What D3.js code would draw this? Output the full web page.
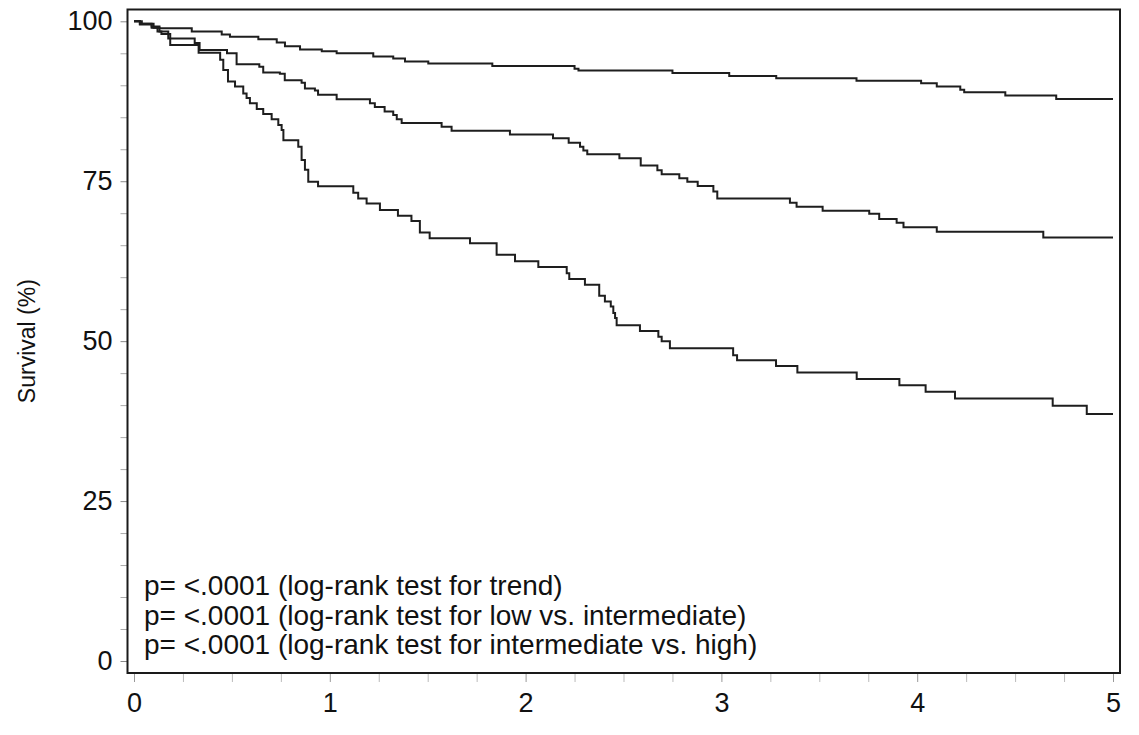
<!DOCTYPE html>
<html>
<head>
<meta charset="utf-8">
<script src="https://cdn.jsdelivr.net/npm/d3@7"></script>
<style>
  html, body { margin: 0; padding: 0; background: #fff; }
  svg { display: block; }
  text { font-family: "Liberation Sans", Arial, sans-serif; fill: #111; }
</style>
</head>
<body>
<svg id="chart" width="1139" height="735"></svg>
<script>
// ---- Data ----
const xTicks = [0, 1, 2, 3, 4, 5];
const yTicks = [0, 25, 50, 75, 100];
const yLabel = "Survival (%)";
const annotations = [
  "p= <.0001 (log-rank test for trend)",
  "p= <.0001 (log-rank test for low vs. intermediate)",
  "p= <.0001 (log-rank test for intermediate vs. high)"
];

// Kaplan-Meier step points: [time (years), survival %]
const lowRisk = [
  [0,100],[0.04,99.6],[0.09,99.2],[0.13,98.9],[0.295,98.4],[0.448,97.95],[0.49,97.6],
  [0.635,97.2],[0.729,96.7],[0.771,96.1],[0.848,95.6],[0.959,95.3],[1.035,95.0],
  [1.222,94.5],[1.324,94.2],[1.384,93.7],[1.503,93.4],[1.83,93.0],[2.25,92.6],
  [2.27,92.3],[2.75,91.9],[3.04,91.45],[3.28,91.1],[3.69,90.7],[4.02,90.3],
  [4.10,89.8],[4.22,89.3],[4.24,88.9],[4.45,88.4],[4.71,87.85],[5,87.85]
];
const intermediateRisk = [
  [0,100],[0.03,99.6],[0.10,99.0],[0.13,98.4],[0.175,97.3],[0.31,96.6],[0.335,95.5],
  [0.475,95.0],[0.524,93.3],[0.64,92.9],[0.66,92.0],[0.745,91.8],[0.77,90.8],
  [0.856,90.4],[0.873,89.5],[0.924,89.2],[0.94,88.5],[1.035,87.8],[1.205,87.2],
  [1.23,86.6],[1.28,85.9],[1.324,85.35],[1.342,84.7],[1.367,84.1],[1.571,83.5],
  [1.622,82.9],[1.92,82.3],[2.14,81.7],[2.22,81.0],[2.278,80.4],[2.295,79.8],
  [2.315,79.2],[2.479,78.6],[2.588,77.45],[2.673,76.7],[2.695,76.1],[2.785,75.45],
  [2.826,74.9],[2.879,74.25],[2.959,73.4],[2.979,72.3],[3.35,71.65],[3.384,71.0],
  [3.517,70.4],[3.755,69.9],[3.806,69.1],[3.895,68.5],[3.93,67.8],[4.10,67.1],
  [4.644,66.2],[5,66.2]
];
const highRisk = [
  [0,100],[0.03,99.5],[0.09,99.0],[0.12,98.4],[0.14,98.0],[0.185,96.3],[0.33,95.1],
  [0.44,94.0],[0.456,92.4],[0.48,90.6],[0.516,89.8],[0.558,88.7],[0.575,88.0],
  [0.592,87.2],[0.627,86.3],[0.66,85.5],[0.703,84.7],[0.737,83.8],[0.754,83.0],
  [0.763,81.4],[0.839,80.4],[0.856,78.3],[0.873,76.8],[0.89,74.9],[0.94,74.2],
  [1.12,73.2],[1.145,72.3],[1.188,71.5],[1.256,70.5],[1.348,69.6],[1.417,68.8],
  [1.46,67.0],[1.51,66.1],[1.716,65.3],[1.852,63.5],[1.946,62.5],[2.065,61.6],
  [2.21,60.6],[2.223,59.7],[2.303,58.8],[2.376,57.1],[2.405,56.2],[2.435,55.4],
  [2.448,54.4],[2.457,53.6],[2.465,52.5],[2.584,51.6],[2.678,50.7],[2.695,50.0],
  [2.737,48.9],[3.06,47.8],[3.08,47.0],[3.279,46.1],[3.388,45.1],[3.691,44.1],
  [3.909,43.1],[4.043,42.1],[4.193,41.05],[4.692,39.9],[4.866,38.6],[5,38.6]
];
const seriesList = [lowRisk, intermediateRisk, highRisk];

// ---- Layout ----
const svg = d3.select("#chart");
const frame = { left: 127.5, top: 9.5, right: 1120, bottom: 673 };
const x = d3.scaleLinear().domain([0, 5]).range([134, 1113]);
const y = d3.scaleLinear().domain([0, 100]).range([661, 21.3]);

// Minor ticks
const xMinor = d3.range(0, 5.0001, 0.25).filter(v => Math.abs(v - Math.round(v)) > 1e-6);
const yMinor = d3.range(0, 100.0001, 5).filter(v => v % 25 !== 0);

// Y axis (left of frame)
const yAxisG = svg.append("g").attr("transform", `translate(${frame.left},0)`);
yAxisG.call(d3.axisLeft(y).tickValues(yMinor).tickSize(7).tickFormat(""));
yAxisG.selectAll(".tick line").attr("stroke", "#aaa").attr("stroke-width", 1);
const yMajorG = svg.append("g").attr("transform", `translate(${frame.left},0)`);
yMajorG.call(d3.axisLeft(y).tickValues(yTicks).tickSize(7).tickPadding(8).tickFormat(d3.format("d")));
yMajorG.selectAll(".tick line").attr("stroke", "#888").attr("stroke-width", 1);
yMajorG.selectAll(".tick text").style("font-size", "27px").attr("fill", "#111");
svg.selectAll(".domain").remove();

// X axis (below frame)
const xMinorG = svg.append("g").attr("transform", `translate(0,${frame.bottom})`);
xMinorG.call(d3.axisBottom(x).tickValues(xMinor).tickSize(9).tickFormat(""));
xMinorG.selectAll(".tick line").attr("stroke", "#bbb").attr("stroke-width", 1);
const xMajorG = svg.append("g").attr("transform", `translate(0,${frame.bottom})`);
xMajorG.call(d3.axisBottom(x).tickValues(xTicks).tickSize(9).tickPadding(11).tickFormat(d3.format("d")));
xMajorG.selectAll(".tick line").attr("stroke", "#999").attr("stroke-width", 1);
xMajorG.selectAll(".tick text").style("font-size", "27px").attr("fill", "#111");
svg.selectAll(".domain").remove();

// Frame
svg.append("rect")
  .attr("x", frame.left).attr("y", frame.top)
  .attr("width", frame.right - frame.left).attr("height", frame.bottom - frame.top)
  .attr("fill", "none").attr("stroke", "#1a1a1a").attr("stroke-width", 2);

// Curves
const line = d3.line().x(d => x(d[0])).y(d => y(d[1])).curve(d3.curveStepAfter);
svg.append("g").selectAll("path").data(seriesList).join("path")
  .attr("d", line)
  .attr("fill", "none")
  .attr("stroke", "#1e1e1e")
  .attr("stroke-width", 2);

// Y label
svg.append("text")
  .attr("transform", `translate(35,${(y(0) + y(100)) / 2}) rotate(-90)`)
  .attr("text-anchor", "middle")
  .style("font-size", "23px")
  .text(yLabel);

// Annotations
svg.append("g").selectAll("text").data(annotations).join("text")
  .attr("x", 144)
  .attr("y", (d, i) => 595 + i * 29.5)
  .style("font-size", "28px")
  .text(d => d);
</script>
</body>
</html>
